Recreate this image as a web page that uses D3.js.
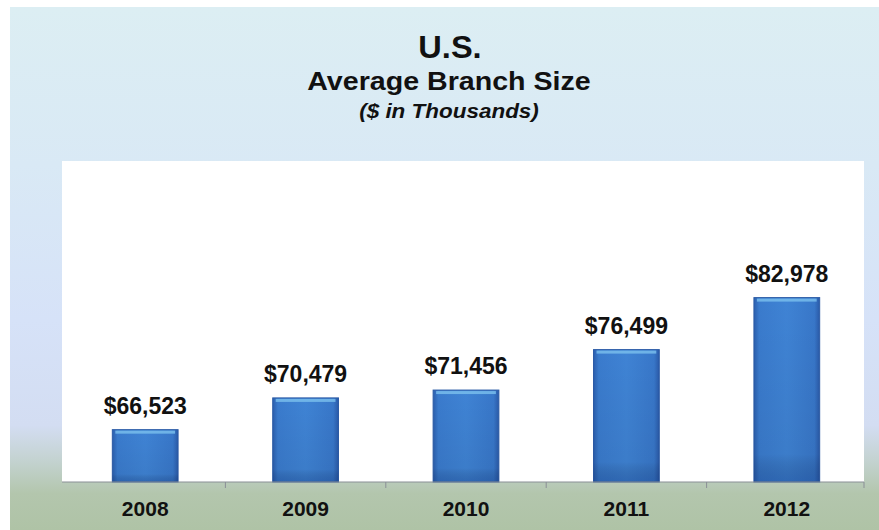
<!DOCTYPE html>
<html>
<head>
<meta charset="utf-8">
<script src="https://cdn.jsdelivr.net/npm/d3@7"></script>
<style>
  html, body { margin: 0; padding: 0; background: #ffffff; }
  svg { display: block; }
</style>
</head>
<body>
<svg id="chart" width="879" height="530"></svg>
<script>
// Average branch size by year, $ in thousands
const years = ["2008", "2009", "2010", "2011", "2012"];
const branchSize = [66523, 70479, 71456, 76499, 82978];
const valueLabels = ["$66,523", "$70,479", "$71,456", "$76,499", "$82,978"];

const W = 879, H = 530;
const svg = d3.select("#chart");
const defs = svg.append("defs");

// slide background: pale cyan at the top, soft blue in the middle, sage green at the foot
const bg = defs.append("linearGradient").attr("id", "bgGrad")
  .attr("x1", 0).attr("y1", 0).attr("x2", 0).attr("y2", 1);
[[0, "#dceef3"], [0.3, "#d9e9f5"], [0.6, "#d6e2f8"], [0.8, "#d3ddf2"],
 [0.87, "#c3d2cf"], [0.93, "#b3c6ad"], [1, "#afc3a6"]]
  .forEach(([o, c]) => bg.append("stop").attr("offset", o).attr("stop-color", c));

// bar body: darker edges, brighter centre
const barGrad = defs.append("linearGradient").attr("id", "barGrad")
  .attr("x1", 0).attr("y1", 0).attr("x2", 1).attr("y2", 0);
[[0, "#2b5fae"], [0.08, "#3a7bcd"], [0.5, "#3f83d4"], [0.92, "#3877c9"], [1, "#2a5aa8"]]
  .forEach(([o, c]) => barGrad.append("stop").attr("offset", o).attr("stop-color", c));

const barShade = defs.append("linearGradient").attr("id", "barShade")
  .attr("x1", 0).attr("y1", 0).attr("x2", 0).attr("y2", 1);
[[0, "#000", 0], [0.85, "#000", 0.05], [1, "#0a2a6a", 0.3]]
  .forEach(([o, c, a]) => barShade.append("stop").attr("offset", o)
    .attr("stop-color", c).attr("stop-opacity", a));

svg.append("rect").attr("x", 10).attr("y", 7).attr("width", W - 10).attr("height", H - 7)
  .attr("fill", "url(#bgGrad)");

// plot panel
const plot = { left: 62, right: 864, top: 161, bottom: 482 };
svg.append("rect")
  .attr("x", plot.left).attr("y", plot.top)
  .attr("width", plot.right - plot.left).attr("height", plot.bottom - plot.top)
  .attr("fill", "#ffffff");

const x = d3.scaleBand().domain(years)
  .range([plot.left + 3, plot.right + 3]).paddingInner(0.59).paddingOuter(0.295);
const y = d3.scaleLinear().domain([60000, 100000]).range([plot.bottom, plot.top]);

const data = years.map((yr, i) => ({ yr, v: branchSize[i], label: valueLabels[i] }));

const bars = svg.append("g");
bars.selectAll("rect.body").data(data).join("rect")
  .attr("class", "body")
  .attr("x", d => x(d.yr)).attr("y", d => y(d.v))
  .attr("width", x.bandwidth()).attr("height", d => y(60000) - y(d.v))
  .attr("fill", "url(#barGrad)")
  .attr("stroke", "#2b5ba6").attr("stroke-width", 1);
bars.selectAll("rect.shade").data(data).join("rect")
  .attr("class", "shade")
  .attr("x", d => x(d.yr)).attr("y", d => y(d.v))
  .attr("width", x.bandwidth()).attr("height", d => y(60000) - y(d.v))
  .attr("fill", "url(#barShade)");
// bevelled top highlight
bars.selectAll("rect.hl").data(data).join("rect")
  .attr("class", "hl")
  .attr("x", d => x(d.yr) + 3).attr("y", d => y(d.v) + 1)
  .attr("width", x.bandwidth() - 6).attr("height", 3)
  .attr("fill", "#7cc0ee").attr("opacity", 0.8);

const tf = "Liberation Sans, Arial, sans-serif";

// category axis along the bottom
const axisG = svg.append("g").attr("transform", `translate(0,${plot.bottom})`);
const xAxis = d3.axisBottom(x).tickSize(0).tickPadding(19);
axisG.call(xAxis);
axisG.select(".domain").remove();
axisG.append("line").attr("x1", plot.left).attr("x2", plot.right)
  .attr("stroke", "#8a8f96").attr("stroke-width", 1.2);
const boundaries = years.slice(1).map(yr => x(yr) - x.step() * x.paddingInner() / 2)
  .concat([plot.right]);
axisG.selectAll("line.tick-mark").data(boundaries).join("line")
  .attr("class", "tick-mark")
  .attr("x1", d => d).attr("x2", d => d).attr("y1", 0).attr("y2", 6)
  .attr("stroke", "#8a8f96");
axisG.selectAll(".tick text")
  .attr("font-family", tf)
  .attr("font-weight", "bold").attr("font-size", 21).attr("fill", "#111");

// value labels above each bar
svg.append("g").selectAll("text").data(data).join("text")
  .attr("x", d => x(d.yr) + x.bandwidth() / 2)
  .attr("y", d => y(d.v) - 16)
  .attr("text-anchor", "middle")
  .attr("font-family", tf)
  .attr("font-weight", "bold").attr("font-size", 23).attr("fill", "#111")
  .text(d => d.label);

// titles (slightly widened lettering)
function title(txt, cx, base, size, sx, italic) {
  svg.append("text")
    .attr("transform", `translate(${cx},${base}) scale(${sx},1)`)
    .attr("text-anchor", "middle")
    .attr("font-family", tf).attr("font-weight", "bold")
    .attr("font-style", italic ? "italic" : "normal")
    .attr("font-size", size).attr("fill", "#111").text(txt);
}
title("U.S.", 450, 58, 31, 1.05, false);
title("Average Branch Size", 449, 90, 26, 1.1, false);
title("($ in Thousands)", 449, 118, 21, 1.07, true);
</script>
</body>
</html>
